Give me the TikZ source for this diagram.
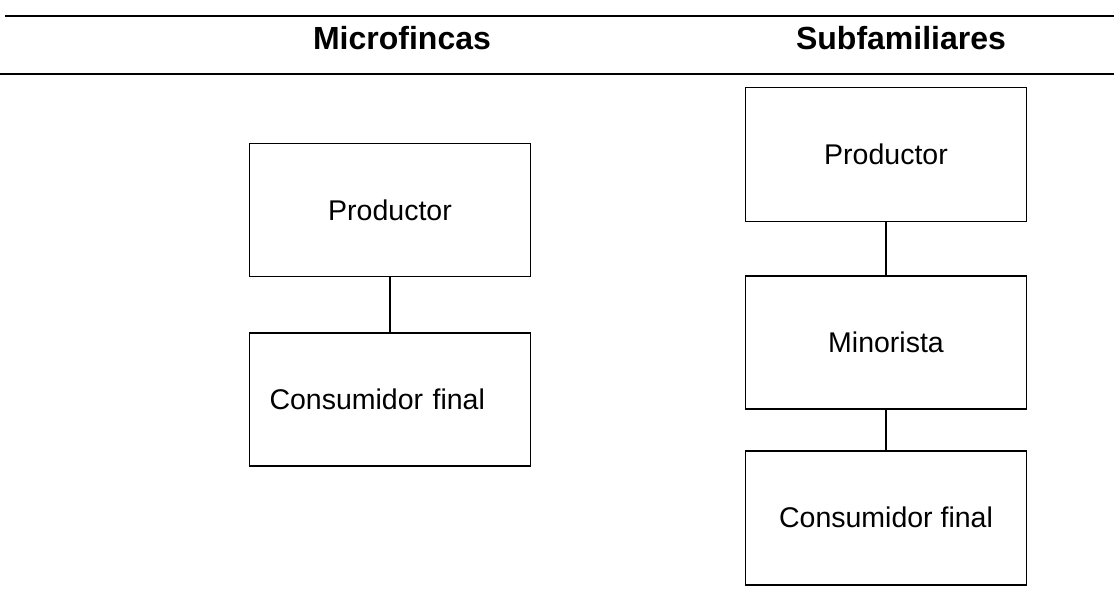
\documentclass[tikz,border=0pt]{standalone}
\usepackage{fontspec}
\setmainfont{Liberation Sans}
\usetikzlibrary{positioning}

\tikzset{
  caja/.style={draw, line width=1.6pt, minimum width=281pt, minimum height=133pt,
    inner sep=0pt, font=\fontsize{28.5}{31}\selectfont},
  encabezado/.style={font=\bfseries\fontsize{32}{34}\selectfont},
  regla/.style={line width=2pt},
  enlace/.style={line width=1.6pt},
}

\begin{document}
\begin{tikzpicture}[x=1pt,y=-1pt]
\useasboundingbox (0,0) rectangle (1114,601);
% reglas de la tabla
\coordinate (r1a) at (5,16);
\coordinate (r1b) at (1114,16);
\coordinate (r2a) at (0,74);
\coordinate (r2b) at (1114,74);
\draw[regla] (r1a) -- (r1b);
\draw[regla] (r2a) -- (r2b);
% encabezados
\node[encabezado] (micro) at (402,38) {Microfincas};
\node[encabezado] (subfam) at (901,38) {Subfamiliares};
% microfincas
\node[caja] (prodA) at (390,210) {Productor};
\node[caja, below=55pt of prodA, text width=241pt, inner xsep=20pt, align=left] (consA) {Consumidor final};
\draw[enlace] (prodA) -- (consA);
% subfamiliares
\node[caja, minimum height=134pt] (prodB) at (886,154.5) {Productor};
\node[caja, below=53pt of prodB] (minB) {Minorista};
\node[caja, below=40pt of minB, minimum height=134pt] (consB) {Consumidor final};
\draw[enlace] (prodB) -- (minB);
\draw[enlace] (minB) -- (consB);
\end{tikzpicture}
\end{document}
